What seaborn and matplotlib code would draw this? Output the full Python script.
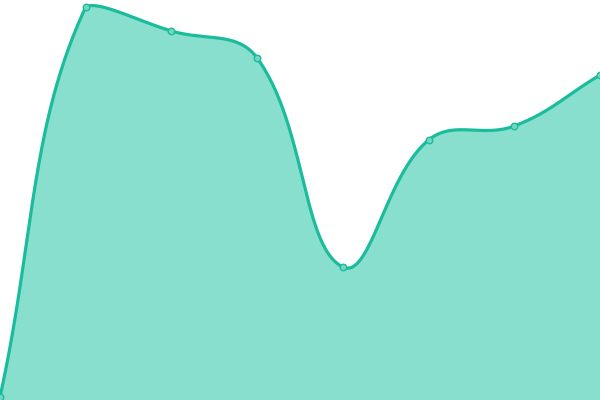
import numpy as np
import pandas as pd
import matplotlib
matplotlib.use("Agg")
import matplotlib.pyplot as plt
import seaborn as sns

categories = ["A", "B", "C", "D", "E", "F", "G", "H"]
values = [3, 393, 369, 342, 133, 260, 274, 325]

LINE = "#1abc9c"
FILL = "#89dfce"
MARK = "#74d6c2"

sns.set_theme(style="white")
fig = plt.figure(figsize=(6, 4), dpi=100)
ax = fig.add_axes([0, 0, 1, 1])
n = len(values)
ax.set_xlim(0, n - 1)
ax.set_ylim(0, 400)
ax.axis("off")

# Chart.js-like spline (tension 0.4) computed in pixel space
xs = np.arange(n, dtype=float)
px = xs * 600 / (n - 1)
py = np.array(values, dtype=float)
t = 0.4
cp_prev = np.zeros((n, 2))
cp_next = np.zeros((n, 2))
for i in range(n):
    p = np.array([px[i], py[i]])
    a = np.array([px[i - 1], py[i - 1]]) if i > 0 else p
    b = np.array([px[i + 1], py[i + 1]]) if i < n - 1 else p
    d01 = np.linalg.norm(p - a)
    d12 = np.linalg.norm(b - p)
    tot = d01 + d12
    s01 = d01 / tot if tot else 0
    s12 = d12 / tot if tot else 0
    cp_prev[i] = p - t * s01 * (b - a)
    cp_next[i] = p + t * s12 * (b - a)
    cp_prev[i] = np.clip(cp_prev[i], [0, 0], [600, 400])
    cp_next[i] = np.clip(cp_next[i], [0, 0], [600, 400])

cx, cy = [], []
u = np.linspace(0, 1, 60)
for i in range(n - 1):
    P0 = np.array([px[i], py[i]]); P1 = cp_next[i]; P2 = cp_prev[i + 1]; P3 = np.array([px[i + 1], py[i + 1]])
    seg = ((1 - u)[:, None] ** 3) * P0 + 3 * ((1 - u)[:, None] ** 2) * u[:, None] * P1 \
        + 3 * (1 - u)[:, None] * (u[:, None] ** 2) * P2 + (u[:, None] ** 3) * P3
    cx.extend(seg[:, 0]); cy.extend(seg[:, 1])
cx = np.array(cx) * (n - 1) / 600
cy = np.array(cy)

curve = pd.DataFrame({"x": cx, "y": cy})
ax.fill_between(curve["x"], curve["y"], 0, color=FILL, linewidth=0)
sns.lineplot(data=curve, x="x", y="y", ax=ax, color=LINE, linewidth=2.3, sort=False)
pts = pd.DataFrame({"x": xs, "y": values})
sns.scatterplot(data=pts, x="x", y="y", ax=ax, s=22, color=MARK, edgecolor=LINE, linewidth=1, zorder=5)
ax.set_xlim(0, n - 1)
ax.set_ylim(0, 400)
ax.axis("off")
fig.savefig("out.png", dpi=100)
